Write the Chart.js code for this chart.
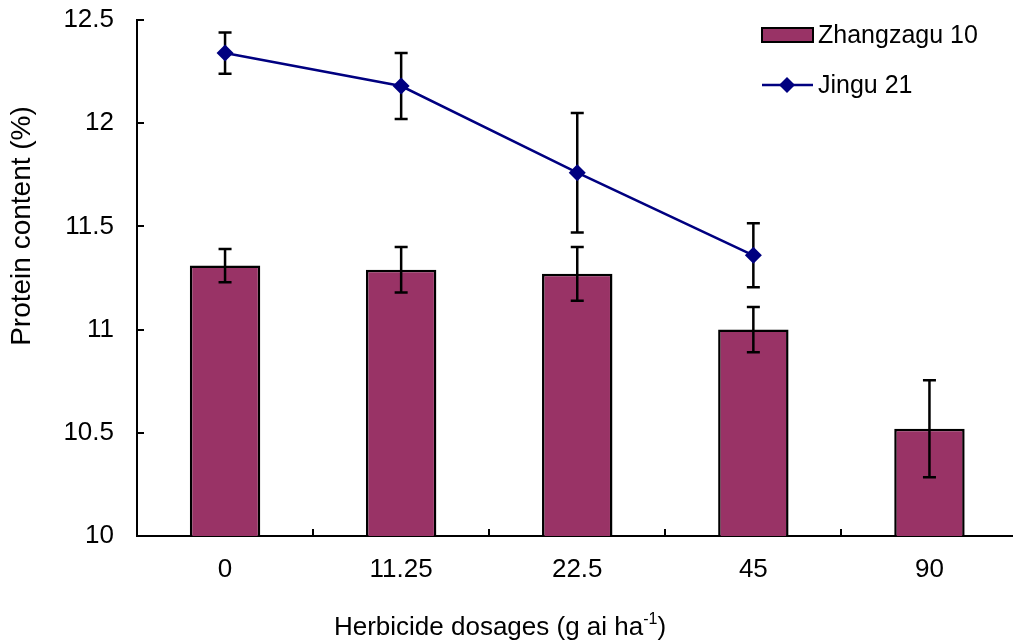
<!DOCTYPE html>
<html>
<head>
<meta charset="utf-8">
<script src="https://cdn.jsdelivr.net/npm/chart.js@4.4.0/dist/chart.umd.min.js"></script>
<style>
  html, body { margin: 0; padding: 0; overflow: hidden; background: #fff; }
  #wrap { position: relative; width: 1026px; height: 643px; }
</style>
</head>
<body>
<div id="wrap"><canvas id="chart" width="1026" height="643"></canvas></div>
<script>
// data
const dosages = ['0', '11.25', '22.5', '45', '90'];
const zhangzagu = [11.31, 11.29, 11.27, 11.00, 10.52];
const zhangzaguErr = [0.08, 0.11, 0.13, 0.11, 0.235];
const jingu = [12.34, 12.18, 11.76, 11.36, null];
const jinguErr = [0.10, 0.16, 0.29, 0.155, null];
const yTickLabels = ['10', '10.5', '11', '11.5', '12', '12.5'];
const yMin = 10, yMax = 12.5, yStep = 0.5;

const FONT = 'Liberation Sans, Arial, sans-serif';
const barColor = '#993366';
const lineColor = '#000080';

    // error bars, drawn from the scales
function drawErrors(chart, meta, errs) {
    const ctx = chart.ctx;
    const yScale = chart.scales.y;
    const data = chart.data.datasets[meta.index].data;
    ctx.save();
    ctx.strokeStyle = '#000';
    ctx.lineWidth = 2.5;
    meta.data.forEach((el, i) => {
        if (data[i] == null || errs[i] == null) return;
        const x = el.x;
        const top = yScale.getPixelForValue(data[i] + errs[i]);
        const bot = yScale.getPixelForValue(data[i] - errs[i]);
        ctx.beginPath();
        ctx.moveTo(x, top); ctx.lineTo(x, bot);
        ctx.moveTo(x - 6.5, top); ctx.lineTo(x + 6.5, top);
        ctx.moveTo(x - 6.5, bot); ctx.lineTo(x + 6.5, bot);
        ctx.stroke();
    });
    ctx.restore();
}

const errorBars = {
    id: 'errorBars',
    beforeDatasetDraw(chart, args) {
        if (args.index === 1) drawErrors(chart, args.meta, jinguErr);
    },
    afterDatasetDraw(chart, args) {
        if (args.index === 0) drawErrors(chart, args.meta, zhangzaguErr);
    }
};

    // inward tick marks, titles and legend
const extras = {
    id: 'extras',
    afterDraw(chart) {
        const ctx = chart.ctx;
        const x = chart.scales.x, y = chart.scales.y;
        const area = chart.chartArea;
        ctx.save();
        ctx.strokeStyle = '#000';
        ctx.lineWidth = 2;
        ctx.beginPath();
        for (let v = yMin; v <= yMax + 1e-9; v += yStep) {
            const py = Math.round(y.getPixelForValue(v));
            ctx.moveTo(area.left, py); ctx.lineTo(area.left + 7, py);
        }
        const half = (x.getPixelForValue(1) - x.getPixelForValue(0)) / 2;
        for (let i = 1; i < dosages.length; i++) {
            const px = Math.round(x.getPixelForValue(i) - half);
            ctx.moveTo(px, area.bottom); ctx.lineTo(px, area.bottom - 7);
        }
        ctx.stroke();

        // axis titles
        ctx.fillStyle = '#000';
        ctx.textBaseline = 'middle';
        ctx.save();
        ctx.font = '28px ' + FONT;
        ctx.translate(22, 226);
        ctx.rotate(-Math.PI / 2);
        ctx.textAlign = 'center';
        ctx.fillText('Protein content (%)', 0, 0);
        ctx.restore();

        const main = 'Herbicide dosages (g ai ha';
        const sup = '-1';
        const tail = ')';
        ctx.font = '26px ' + FONT;
        const w1 = ctx.measureText(main).width;
        const w3 = ctx.measureText(tail).width;
        ctx.font = '16px ' + FONT;
        const w2 = ctx.measureText(sup).width;
        let tx = 500 - (w1 + w2 + w3) / 2;
        const ty = 628;
        ctx.textAlign = 'left';
        ctx.font = '26px ' + FONT;
        ctx.fillText(main, tx, ty);
        ctx.font = '16px ' + FONT;
        ctx.fillText(sup, tx + w1, ty - 8);
        ctx.font = '26px ' + FONT;
        ctx.fillText(tail, tx + w1 + w2, ty);

        // legend
        const ds = chart.data.datasets;
        ctx.font = '25px ' + FONT;
        ctx.fillStyle = barColor;
        ctx.fillRect(762, 28, 51, 14);
        ctx.strokeRect(762, 28, 51, 14);
        ctx.fillStyle = '#000';
        ctx.fillText(ds[0].label, 818, 36);

        ctx.strokeStyle = lineColor;
        ctx.lineWidth = 2.5;
        ctx.beginPath();
        ctx.moveTo(762, 85); ctx.lineTo(813, 85);
        ctx.stroke();
        ctx.fillStyle = lineColor;
        ctx.beginPath();
        ctx.moveTo(787, 77); ctx.lineTo(795, 85); ctx.lineTo(787, 93); ctx.lineTo(779, 85);
        ctx.closePath();
        ctx.fill();
        ctx.fillStyle = '#000';
        ctx.fillText(ds[1].label, 818, 86);
        ctx.restore();
    }
};

new Chart(document.getElementById('chart'), {
    type: 'bar',
    data: {
        labels: dosages,
        datasets: [
            {
                label: 'Zhangzagu 10',
                data: zhangzagu,
                backgroundColor: barColor,
                borderColor: '#000',
                borderWidth: 2.5,
                barPercentage: 0.4,
                categoryPercentage: 1,
                order: 1
            },
            {
                type: 'line',
                label: 'Jingu 21',
                data: jingu,
                borderColor: lineColor,
                backgroundColor: lineColor,
                borderWidth: 2.5,
                pointStyle: 'rectRot',
                pointRadius: 8.5,
                pointBorderWidth: 0,
                tension: 0,
                order: 0
            }
        ]
    },
    options: {
        responsive: false,
        animation: false,
        devicePixelRatio: 1,
        layout: { padding: { top: 20, right: 4, left: 0, bottom: 0 } },
        plugins: {
            legend: { display: false },
            tooltip: { enabled: false }
        },
        scales: {
            x: {
                offset: true,
                grid: { display: false, drawTicks: false },
                border: { display: true, color: '#000', width: 2 },
                ticks: { color: '#000', font: { family: FONT, size: 26 }, padding: 18 },
                afterFit(scale) { scale.height = 107; }
            },
            y: {
                min: yMin,
                max: yMax,
                grid: { display: false, drawTicks: false },
                border: { display: true, color: '#000', width: 2 },
                ticks: {
                    stepSize: yStep,
                    color: '#000',
                    font: { family: FONT, size: 26 },
                    padding: 23,
                    callback: (value, index) => yTickLabels[index]
                },
                afterFit(scale) {
                    scale.width = 137;
                    scale.paddingTop = 0;
                    scale.paddingBottom = 0;
                }
            }
        }
    },
    plugins: [errorBars, extras]
});
</script>
</body>
</html>
